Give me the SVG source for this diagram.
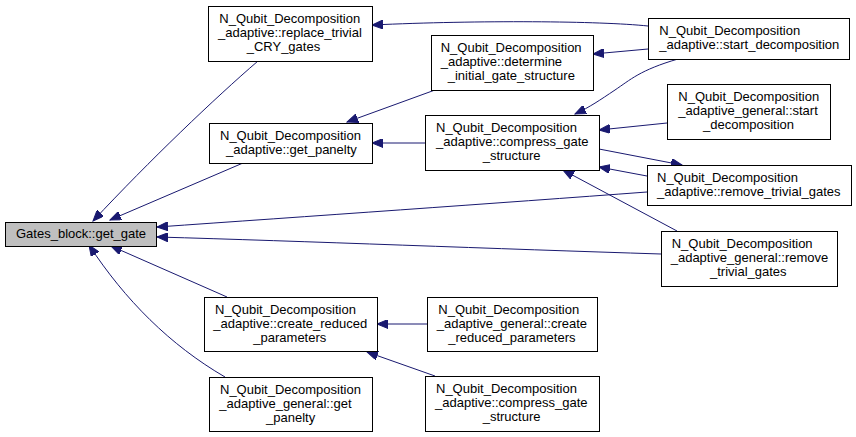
<svg xmlns="http://www.w3.org/2000/svg" width="856" height="437" viewBox="0 0 856 437">
<defs>
<marker id="ah" markerUnits="userSpaceOnUse" markerWidth="12" markerHeight="9" refX="11" refY="4.5" orient="auto">
<path d="M0,0 L11,4.5 L0,9 z" fill="#191970" stroke="#191970" stroke-width="1"/>
</marker>
<style>
.n rect{fill:#ffffff;stroke:#000000;stroke-width:1}
.n text{font-family:"Liberation Sans",Arial,sans-serif;font-size:13px;fill:#000000}
#edges path{fill:none;stroke:#191970;stroke-width:1;marker-end:url(#ah)}
</style>
</defs>
<rect width="856" height="437" fill="#ffffff"/>
<g id="edges">
<path d="M258,61 C215,98 150,160 93,221"/>
<path d="M243,163 L110,220"/>
<path d="M647,192 C500,203 300,217 157,227"/>
<path d="M661,254 C500,249 300,241 157,237"/>
<path d="M227,297 L111,246"/>
<path d="M225,377 C170,345 125,300 89,245"/>
<path d="M648,26 C600,21 480,20 372,25"/>
<path d="M435,90 L347,122"/>
<path d="M425,143 L372,143"/>
<path d="M648,49 L593,54"/>
<path d="M678,59 C640,70 630,80 615,90 C600,100 590,107 575,114"/>
<path d="M667,123 L599,130"/>
<path d="M599,149 L682,165"/>
<path d="M647,176 L599,167"/>
<path d="M677,231 L563,170"/>
<path d="M427,324 L377,324"/>
<path d="M435,376 L367,352"/>
</g>
<g id="get_gate" class="n"><rect x="5.5" y="222.5" width="151" height="24" style="fill:#bfbfbf"/><text x="16" y="237.5">Gates_block::get_gate</text></g>
<g id="replace_trivial_CRY_gates" class="n"><rect x="208.5" y="6.5" width="164" height="55"/><text x="219.3" y="23">N_Qubit_Decomposition</text><text x="218" y="37">_adaptive::replace_trivial</text><text x="246.7" y="51">_CRY_gates</text></g>
<g id="get_panelty" class="n"><rect x="209.5" y="123.5" width="163" height="40"/><text x="220" y="139.5">N_Qubit_Decomposition</text><text x="226" y="153.5">_adaptive::get_panelty</text></g>
<g id="determine_initial_gate_structure" class="n"><rect x="431.5" y="35.5" width="162" height="55"/><text x="440.7" y="52">N_Qubit_Decomposition</text><text x="440.7" y="66">_adaptive::determine</text><text x="447.7" y="80">_initial_gate_structure</text></g>
<g id="compress_gate_structure_top" class="n"><rect x="425.5" y="115.5" width="174" height="55"/><text x="436" y="132">N_Qubit_Decomposition</text><text x="436" y="146">_adaptive::compress_gate</text><text x="482.7" y="160">_structure</text></g>
<g id="start_decomposition" class="n"><rect x="648.5" y="18.5" width="201" height="41"/><text x="659.3" y="35">N_Qubit_Decomposition</text><text x="659.3" y="49">_adaptive::start_decomposition</text></g>
<g id="general_start_decomposition" class="n"><rect x="667.5" y="84.5" width="163" height="55"/><text x="678.3" y="101">N_Qubit_Decomposition</text><text x="678.3" y="115">_adaptive_general::start</text><text x="703" y="129">_decomposition</text></g>
<g id="remove_trivial_gates" class="n"><rect x="647.5" y="165.5" width="204" height="40"/><text x="657" y="181.5">N_Qubit_Decomposition</text><text x="657" y="195.5">_adaptive::remove_trivial_gates</text></g>
<g id="general_remove_trivial_gates" class="n"><rect x="661.5" y="231.5" width="176" height="55"/><text x="671.7" y="248">N_Qubit_Decomposition</text><text x="670.7" y="262">_adaptive_general::remove</text><text x="710" y="276">_trivial_gates</text></g>
<g id="create_reduced_parameters" class="n"><rect x="204.5" y="297.5" width="173" height="54"/><text x="215" y="313.5">N_Qubit_Decomposition</text><text x="213.3" y="327.5">_adaptive::create_reduced</text><text x="253.3" y="341.5">_parameters</text></g>
<g id="general_get_panelty" class="n"><rect x="209.5" y="377.5" width="163" height="54"/><text x="220" y="393.5">N_Qubit_Decomposition</text><text x="219.3" y="407.5">_adaptive_general::get</text><text x="266" y="421.5">_panelty</text></g>
<g id="general_create_reduced_parameters" class="n"><rect x="427.5" y="297.5" width="170" height="54"/><text x="438.3" y="313.5">N_Qubit_Decomposition</text><text x="436.7" y="327.5">_adaptive_general::create</text><text x="448.3" y="341.5">_reduced_parameters</text></g>
<g id="compress_gate_structure_bottom" class="n"><rect x="425.5" y="376.5" width="174" height="55"/><text x="436" y="393">N_Qubit_Decomposition</text><text x="435" y="407">_adaptive::compress_gate</text><text x="482.7" y="421">_structure</text></g>
</svg>
